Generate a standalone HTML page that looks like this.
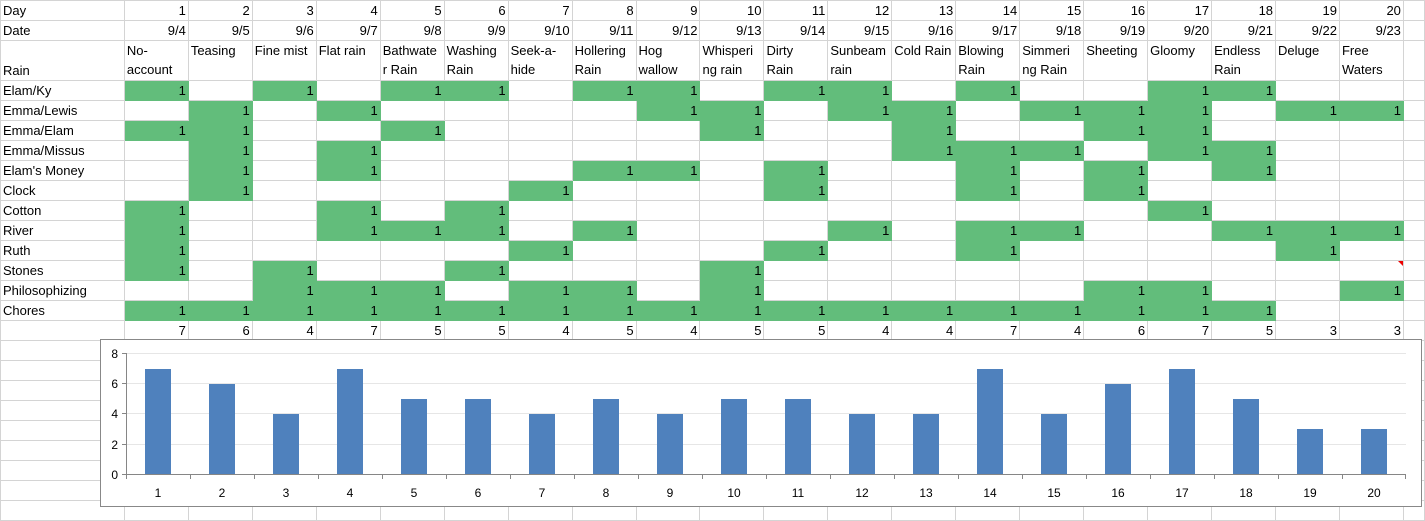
<!DOCTYPE html>
<html><head><meta charset="utf-8"><style>
body{margin:0;width:1425px;height:511px;overflow:hidden;background:#fff;font-family:"Liberation Sans",sans-serif;font-size:13px;color:#000;position:relative}
table{border-collapse:collapse;table-layout:fixed;position:absolute;left:0;top:0}
td{border:1px solid #d4d4d4;height:19px;padding:0 2px;white-space:nowrap;overflow:hidden;vertical-align:bottom;line-height:19px}
td.n{text-align:right}
td.g{background:#62bd7b;border-color:#62bd7b}
tr.h td{height:39px;vertical-align:top;line-height:19px;padding-top:0}
tr.h td.a{vertical-align:bottom}
#ch{position:absolute;left:100px;top:339px}
</style></head><body>
<table>
<colgroup><col style="width:124px"><col span="20" style="width:64px"><col style="width:21px"></colgroup>
<tr><td>Day</td><td class="n">1</td><td class="n">2</td><td class="n">3</td><td class="n">4</td><td class="n">5</td><td class="n">6</td><td class="n">7</td><td class="n">8</td><td class="n">9</td><td class="n">10</td><td class="n">11</td><td class="n">12</td><td class="n">13</td><td class="n">14</td><td class="n">15</td><td class="n">16</td><td class="n">17</td><td class="n">18</td><td class="n">19</td><td class="n">20</td><td></td></tr>
<tr><td>Date</td><td class="n">9/4</td><td class="n">9/5</td><td class="n">9/6</td><td class="n">9/7</td><td class="n">9/8</td><td class="n">9/9</td><td class="n">9/10</td><td class="n">9/11</td><td class="n">9/12</td><td class="n">9/13</td><td class="n">9/14</td><td class="n">9/15</td><td class="n">9/16</td><td class="n">9/17</td><td class="n">9/18</td><td class="n">9/19</td><td class="n">9/20</td><td class="n">9/21</td><td class="n">9/22</td><td class="n">9/23</td><td></td></tr>
<tr class="h"><td class="a">Rain</td><td>No-<br>account</td><td>Teasing</td><td>Fine mist</td><td>Flat rain</td><td>Bathwate<br>r Rain</td><td>Washing<br>Rain</td><td>Seek-a-<br>hide</td><td>Hollering<br>Rain</td><td>Hog<br>wallow</td><td>Whisperi<br>ng rain</td><td>Dirty<br>Rain</td><td>Sunbeam<br>rain</td><td>Cold Rain</td><td>Blowing<br>Rain</td><td>Simmeri<br>ng Rain</td><td>Sheeting</td><td>Gloomy</td><td>Endless<br>Rain</td><td>Deluge</td><td>Free<br>Waters</td><td></td></tr>
<tr><td>Elam/Ky</td><td class="n g">1</td><td></td><td class="n g">1</td><td></td><td class="n g">1</td><td class="n g">1</td><td></td><td class="n g">1</td><td class="n g">1</td><td></td><td class="n g">1</td><td class="n g">1</td><td></td><td class="n g">1</td><td></td><td></td><td class="n g">1</td><td class="n g">1</td><td></td><td></td><td></td></tr>
<tr><td>Emma/Lewis</td><td></td><td class="n g">1</td><td></td><td class="n g">1</td><td></td><td></td><td></td><td></td><td class="n g">1</td><td class="n g">1</td><td></td><td class="n g">1</td><td class="n g">1</td><td></td><td class="n g">1</td><td class="n g">1</td><td class="n g">1</td><td></td><td class="n g">1</td><td class="n g">1</td><td></td></tr>
<tr><td>Emma/Elam</td><td class="n g">1</td><td class="n g">1</td><td></td><td></td><td class="n g">1</td><td></td><td></td><td></td><td></td><td class="n g">1</td><td></td><td></td><td class="n g">1</td><td></td><td></td><td class="n g">1</td><td class="n g">1</td><td></td><td></td><td></td><td></td></tr>
<tr><td>Emma/Missus</td><td></td><td class="n g">1</td><td></td><td class="n g">1</td><td></td><td></td><td></td><td></td><td></td><td></td><td></td><td></td><td class="n g">1</td><td class="n g">1</td><td class="n g">1</td><td></td><td class="n g">1</td><td class="n g">1</td><td></td><td></td><td></td></tr>
<tr><td>Elam's Money</td><td></td><td class="n g">1</td><td></td><td class="n g">1</td><td></td><td></td><td></td><td class="n g">1</td><td class="n g">1</td><td></td><td class="n g">1</td><td></td><td></td><td class="n g">1</td><td></td><td class="n g">1</td><td></td><td class="n g">1</td><td></td><td></td><td></td></tr>
<tr><td>Clock</td><td></td><td class="n g">1</td><td></td><td></td><td></td><td></td><td class="n g">1</td><td></td><td></td><td></td><td class="n g">1</td><td></td><td></td><td class="n g">1</td><td></td><td class="n g">1</td><td></td><td></td><td></td><td></td><td></td></tr>
<tr><td>Cotton</td><td class="n g">1</td><td></td><td></td><td class="n g">1</td><td></td><td class="n g">1</td><td></td><td></td><td></td><td></td><td></td><td></td><td></td><td></td><td></td><td></td><td class="n g">1</td><td></td><td></td><td></td><td></td></tr>
<tr><td>River</td><td class="n g">1</td><td></td><td></td><td class="n g">1</td><td class="n g">1</td><td class="n g">1</td><td></td><td class="n g">1</td><td></td><td></td><td></td><td class="n g">1</td><td></td><td class="n g">1</td><td class="n g">1</td><td></td><td></td><td class="n g">1</td><td class="n g">1</td><td class="n g">1</td><td></td></tr>
<tr><td>Ruth</td><td class="n g">1</td><td></td><td></td><td></td><td></td><td></td><td class="n g">1</td><td></td><td></td><td></td><td class="n g">1</td><td></td><td></td><td class="n g">1</td><td></td><td></td><td></td><td></td><td class="n g">1</td><td></td><td></td></tr>
<tr><td>Stones</td><td class="n g">1</td><td></td><td class="n g">1</td><td></td><td></td><td class="n g">1</td><td></td><td></td><td></td><td class="n g">1</td><td></td><td></td><td></td><td></td><td></td><td></td><td></td><td></td><td></td><td style="position:relative"><span style="position:absolute;right:0;top:0;width:0;height:0;border-left:5px solid transparent;border-top:5px solid #e00"></span></td><td></td></tr>
<tr><td>Philosophizing</td><td></td><td></td><td class="n g">1</td><td class="n g">1</td><td class="n g">1</td><td></td><td class="n g">1</td><td class="n g">1</td><td></td><td class="n g">1</td><td></td><td></td><td></td><td></td><td></td><td class="n g">1</td><td class="n g">1</td><td></td><td></td><td class="n g">1</td><td></td></tr>
<tr><td>Chores</td><td class="n g">1</td><td class="n g">1</td><td class="n g">1</td><td class="n g">1</td><td class="n g">1</td><td class="n g">1</td><td class="n g">1</td><td class="n g">1</td><td class="n g">1</td><td class="n g">1</td><td class="n g">1</td><td class="n g">1</td><td class="n g">1</td><td class="n g">1</td><td class="n g">1</td><td class="n g">1</td><td class="n g">1</td><td class="n g">1</td><td></td><td></td><td></td></tr>
<tr><td></td><td class="n">7</td><td class="n">6</td><td class="n">4</td><td class="n">7</td><td class="n">5</td><td class="n">5</td><td class="n">4</td><td class="n">5</td><td class="n">4</td><td class="n">5</td><td class="n">5</td><td class="n">4</td><td class="n">4</td><td class="n">7</td><td class="n">4</td><td class="n">6</td><td class="n">7</td><td class="n">5</td><td class="n">3</td><td class="n">3</td><td></td></tr>
<tr><td></td><td></td><td></td><td></td><td></td><td></td><td></td><td></td><td></td><td></td><td></td><td></td><td></td><td></td><td></td><td></td><td></td><td></td><td></td><td></td><td></td><td></td></tr>
<tr><td></td><td></td><td></td><td></td><td></td><td></td><td></td><td></td><td></td><td></td><td></td><td></td><td></td><td></td><td></td><td></td><td></td><td></td><td></td><td></td><td></td><td></td></tr>
<tr><td></td><td></td><td></td><td></td><td></td><td></td><td></td><td></td><td></td><td></td><td></td><td></td><td></td><td></td><td></td><td></td><td></td><td></td><td></td><td></td><td></td><td></td></tr>
<tr><td></td><td></td><td></td><td></td><td></td><td></td><td></td><td></td><td></td><td></td><td></td><td></td><td></td><td></td><td></td><td></td><td></td><td></td><td></td><td></td><td></td><td></td></tr>
<tr><td></td><td></td><td></td><td></td><td></td><td></td><td></td><td></td><td></td><td></td><td></td><td></td><td></td><td></td><td></td><td></td><td></td><td></td><td></td><td></td><td></td><td></td></tr>
<tr><td></td><td></td><td></td><td></td><td></td><td></td><td></td><td></td><td></td><td></td><td></td><td></td><td></td><td></td><td></td><td></td><td></td><td></td><td></td><td></td><td></td><td></td></tr>
<tr><td></td><td></td><td></td><td></td><td></td><td></td><td></td><td></td><td></td><td></td><td></td><td></td><td></td><td></td><td></td><td></td><td></td><td></td><td></td><td></td><td></td><td></td></tr>
<tr><td></td><td></td><td></td><td></td><td></td><td></td><td></td><td></td><td></td><td></td><td></td><td></td><td></td><td></td><td></td><td></td><td></td><td></td><td></td><td></td><td></td><td></td></tr>
<tr><td></td><td></td><td></td><td></td><td></td><td></td><td></td><td></td><td></td><td></td><td></td><td></td><td></td><td></td><td></td><td></td><td></td><td></td><td></td><td></td><td></td><td></td></tr>
</table>
<svg id="ch" width="1323" height="169" viewBox="0 0 1323 169" font-family="Liberation Sans, sans-serif" font-size="12">
<rect x="0.5" y="0.5" width="1321" height="167" fill="#fff" stroke="#888"/>
<g stroke="#e6e6e6"><line x1="26" x2="1306" y1="14.5" y2="14.5"/><line x1="26" x2="1306" y1="44.5" y2="44.5"/><line x1="26" x2="1306" y1="74.5" y2="74.5"/><line x1="26" x2="1306" y1="105.5" y2="105.5"/></g>
<g fill="#4f81bd">
<rect x="45" y="30" width="26" height="105"/><rect x="109" y="45" width="26" height="90"/><rect x="173" y="75" width="26" height="60"/><rect x="237" y="30" width="26" height="105"/><rect x="301" y="60" width="26" height="75"/><rect x="365" y="60" width="26" height="75"/><rect x="429" y="75" width="26" height="60"/><rect x="493" y="60" width="26" height="75"/><rect x="557" y="75" width="26" height="60"/><rect x="621" y="60" width="26" height="75"/><rect x="685" y="60" width="26" height="75"/><rect x="749" y="75" width="26" height="60"/><rect x="813" y="75" width="26" height="60"/><rect x="877" y="30" width="26" height="105"/><rect x="941" y="75" width="26" height="60"/><rect x="1005" y="45" width="26" height="90"/><rect x="1069" y="30" width="26" height="105"/><rect x="1133" y="60" width="26" height="75"/><rect x="1197" y="90" width="26" height="45"/><rect x="1261" y="90" width="26" height="45"/>
</g>
<g stroke="#868686"><line x1="26.5" x2="26.5" y1="14" y2="135"/><line x1="22" x2="1306" y1="135.5" y2="135.5"/>
<line x1="22" x2="26" y1="14.5" y2="14.5"/><line x1="22" x2="26" y1="44.5" y2="44.5"/><line x1="22" x2="26" y1="74.5" y2="74.5"/><line x1="22" x2="26" y1="105.5" y2="105.5"/>
<path d="M26.5 135v5M90.5 135v5M154.5 135v5M218.5 135v5M282.5 135v5M346.5 135v5M410.5 135v5M474.5 135v5M538.5 135v5M602.5 135v5M666.5 135v5M730.5 135v5M794.5 135v5M858.5 135v5M922.5 135v5M986.5 135v5M1050.5 135v5M1114.5 135v5M1178.5 135v5M1242.5 135v5M1305.5 135v5"/></g>
<g text-anchor="end"><text x="18" y="19">8</text><text x="18" y="49">6</text><text x="18" y="79">4</text><text x="18" y="110">2</text><text x="18" y="140">0</text></g>
<g text-anchor="middle"><text x="58" y="158">1</text><text x="122" y="158">2</text><text x="186" y="158">3</text><text x="250" y="158">4</text><text x="314" y="158">5</text><text x="378" y="158">6</text><text x="442" y="158">7</text><text x="506" y="158">8</text><text x="570" y="158">9</text><text x="634" y="158">10</text><text x="698" y="158">11</text><text x="762" y="158">12</text><text x="826" y="158">13</text><text x="890" y="158">14</text><text x="954" y="158">15</text><text x="1018" y="158">16</text><text x="1082" y="158">17</text><text x="1146" y="158">18</text><text x="1210" y="158">19</text><text x="1274" y="158">20</text></g>
</svg>
</body></html>
